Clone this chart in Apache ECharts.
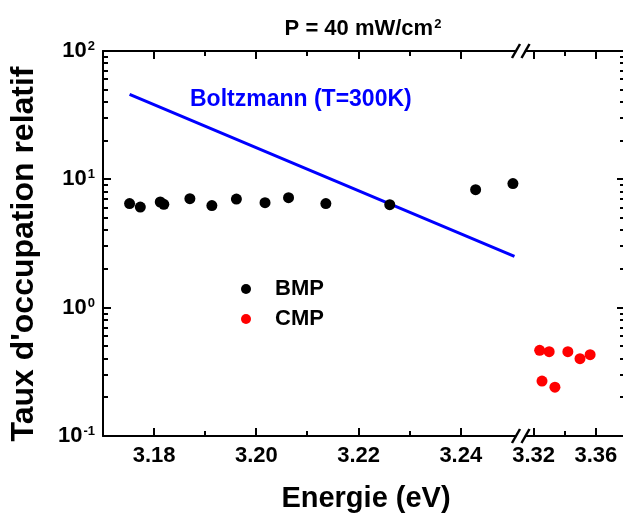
<!DOCTYPE html>
<html><head><meta charset="utf-8">
<script src="https://cdn.jsdelivr.net/npm/echarts@6/dist/echarts.min.js"></script>
<style>html,body{margin:0;padding:0;background:#fff}#c{width:623px;height:513px}</style>
</head><body><div id="c"></div>
<script>
// ---- data ----
const bmpX = [3.1752, 3.1773, 3.1812, 3.1819, 3.1870, 3.1913, 3.1961, 3.2017, 3.2063, 3.2136, 3.2261, 3.2429, 3.2502];
const bmpY = [6.47, 6.08, 6.66, 6.39, 7.07, 6.24, 7.02, 6.58, 7.20, 6.47, 6.35, 8.31, 9.26];
const cmpX = [3.3239, 3.3300, 3.3420, 3.3498, 3.3563, 3.3254, 3.3337];
const cmpY = [0.465, 0.454, 0.454, 0.400, 0.430, 0.268, 0.240];
const boltzX = [3.1752, 3.2505];
const boltzY = [46, 2.51];
// ---- ticks ----
const xMajorLeft = [3.18, 3.20, 3.22, 3.24];
const xMinorLeft = [3.19, 3.21, 3.23];
const xMajorRight = [3.32, 3.36];
const xMinorRight = [3.34];
const yMajor = [0.1, 1, 10, 100];
const yMinor = [0.2, 0.3, 0.4, 0.5, 0.6, 0.7, 0.8, 0.9, 2, 3, 4, 5, 6, 7, 8, 9, 20, 30, 40, 50, 60, 70, 80, 90];
const xRangeLeft = [3.17, 3.2508];
const xRangeRight = [3.3148, 3.3787];
const yRange = [0.1, 100];

// ---- layout ----
const G = {top: 51, height: 385, l0: 103, w0: 413, l1: 525.5, w1: 99.5};
const FONT = '"Liberation Sans", Arial, sans-serif';
const AX = {color: '#000', width: 2};
const MAJ = 8, MIN = 5;

function xAxisDef(grid, pos, range, labels) {
  return {
    type: 'value', gridIndex: grid, position: pos, min: range[0], max: range[1],
    splitLine: {show: false},
    axisLine: {show: true, onZero: false, lineStyle: AX},
    axisTick: {show: false},
    axisLabel: labels ? {show: true, customValues: labels, margin: 9, color: '#000',
      fontFamily: FONT, fontWeight: 'bold', fontSize: 22, formatter: v => v.toFixed(2)} : {show: false}
  };
}
function yAxisDef(grid, pos, labels) {
  return {
    type: 'log', logBase: 10, gridIndex: grid, position: pos, min: yRange[0], max: yRange[1],
    splitLine: {show: false},
    axisLine: {show: true, onZero: false, lineStyle: AX},
    axisTick: {show: false},
    axisLabel: labels ? {show: true, customValues: labels, margin: 8,
      formatter: v => '{b|10}{s|' + Math.round(Math.log10(v)) + '}',
      rich: {
        b: {fontFamily: FONT, fontWeight: 'bold', fontSize: 22, color: '#000', lineHeight: 22},
        s: {fontFamily: FONT, fontWeight: 'bold', fontSize: 13, color: '#000', lineHeight: 22, verticalAlign: 'top', padding: [0, 0, 9, 1]}
      }} : {show: false}
  };
}

const chart = echarts.init(document.getElementById('c'), null, {renderer: 'canvas'});

const option = {
  backgroundColor: '#fff',
  animation: false,
  grid: [
    {left: G.l0, top: G.top, width: G.w0, height: G.height, outerBoundsMode: 'none'},
    {left: G.l1, top: G.top, width: G.w1, height: G.height, outerBoundsMode: 'none'}
  ],
  xAxis: [
    xAxisDef(0, 'bottom', xRangeLeft, xMajorLeft),
    xAxisDef(1, 'bottom', xRangeRight, xMajorRight),
    xAxisDef(0, 'top', xRangeLeft, null),
    xAxisDef(1, 'top', xRangeRight, null)
  ],
  yAxis: [
    yAxisDef(0, 'left', yMajor),
    yAxisDef(1, 'right', null)
  ],
  legend: {
    data: ['BMP', 'CMP'], orient: 'vertical', left: 241, top: 278, padding: 0,
    itemWidth: 10, itemHeight: 10, itemGap: 8, icon: 'circle',
    textStyle: {fontFamily: FONT, fontWeight: 'bold', fontSize: 22, color: '#000', padding: [0, 0, 0, 19]}
  },
  series: [
    {name: 'BMP', type: 'scatter', xAxisIndex: 0, yAxisIndex: 0, symbolSize: 11, clip: false,
      itemStyle: {color: '#000', opacity: 1}, data: bmpX.map((x, i) => [x, bmpY[i]]), z: 3},
    {name: 'CMP', type: 'scatter', xAxisIndex: 1, yAxisIndex: 1, symbolSize: 11, clip: false,
      itemStyle: {color: '#ff0000', opacity: 1}, data: cmpX.map((x, i) => [x, cmpY[i]]), z: 3},
    {name: 'Boltzmann', type: 'line', xAxisIndex: 0, yAxisIndex: 0, symbol: 'none',
      lineStyle: {color: '#0000ff', width: 3}, itemStyle: {color: '#0000ff'},
      data: boltzX.map((x, i) => [x, boltzY[i]]), z: 2}
  ]
};
chart.setOption(option);

// ---- tick marks, positioned through the chart's own axes ----
const gfx = [];
const TK = {stroke: '#000', lineWidth: 2};
function px(grid, v) {
  const p = chart.convertToPixel({xAxisIndex: grid, yAxisIndex: grid}, v);
  return [Math.round(p[0]), Math.round(p[1])];
}
function addXTicks(grid, vals, len) {
  vals.forEach(v => {
    const b = px(grid, [v, yRange[0]]);
    const t = px(grid, [v, yRange[1]]);
    gfx.push({type: 'line', z: 50, shape: {x1: b[0], y1: b[1], x2: b[0], y2: b[1] - len}, style: TK});
    gfx.push({type: 'line', z: 50, shape: {x1: t[0], y1: t[1], x2: t[0], y2: t[1] + len}, style: TK});
  });
}
function addYTicks(grid, xAt, dir, vals, len) {
  vals.forEach(v => {
    const p = px(grid, [xAt, v]);
    gfx.push({type: 'line', z: 50, shape: {x1: p[0], y1: p[1], x2: p[0] + dir * len, y2: p[1]}, style: TK});
  });
}
addXTicks(0, xMajorLeft, MAJ);
addXTicks(0, xMinorLeft, MIN);
addXTicks(1, xMajorRight, MAJ);
addXTicks(1, xMinorRight, MIN);
addYTicks(0, xRangeLeft[0], 1, yMajor, MAJ);
addYTicks(0, xRangeLeft[0], 1, yMinor, MIN);
addYTicks(1, xRangeRight[1], -1, yMajor, MAJ);
addYTicks(1, xRangeRight[1], -1, yMinor, MIN);

// axis break marks
[G.top, G.top + G.height].forEach(y => {
  gfx.push({type: 'rect', z: 99, shape: {x: G.l0 + G.w0 + 1, y: y - 2, width: G.l1 - G.l0 - G.w0 - 2, height: 4}, style: {fill: '#fff'}});
  [G.l0 + G.w0, G.l1].forEach(x => {
    gfx.push({type: 'line', z: 100, shape: {x1: x - 4, y1: y + 7, x2: x + 4, y2: y - 7},
      style: {stroke: '#000', lineWidth: 2.5}});
  });
});

// texts
gfx.push(
  {type: 'text', z: 100, style: {x: 363, y: 29, align: 'center', verticalAlign: 'middle',
    text: '{a|P = 40 mW/cm}{s|2}',
    rich: {a: {fontFamily: FONT, fontWeight: 'bold', fontSize: 22, fill: '#000', lineHeight: 22},
           s: {fontFamily: FONT, fontWeight: 'bold', fontSize: 13, fill: '#000', lineHeight: 22, verticalAlign: 'top', padding: [0, 0, 9, 1]}}}},
  {type: 'text', z: 100, style: {x: 190, y: 100, align: 'left', verticalAlign: 'middle',
    text: 'Boltzmann (T=300K)', fill: '#0000ff', font: 'bold 23px ' + FONT}},
  {type: 'text', z: 100, style: {x: 366, y: 499, align: 'center', verticalAlign: 'middle',
    text: 'Energie (eV)', fill: '#000', font: 'bold 29px ' + FONT}},
  {type: 'text', z: 100, x: 24, y: 254, rotation: Math.PI / 2,
    style: {x: 0, y: 0, align: 'center', verticalAlign: 'middle',
    text: "Taux d'occupation relatif", fill: '#000', font: 'bold 32px ' + FONT}}
);
chart.setOption({graphic: gfx});
</script>
</body></html>
